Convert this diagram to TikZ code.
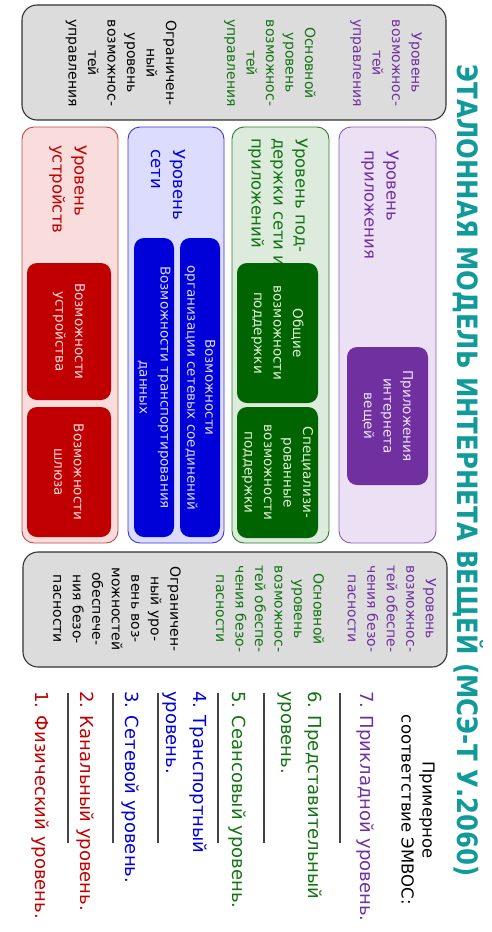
\documentclass[tikz,border=0pt]{standalone}
\usepackage{fontspec}
\usepackage{graphicx}
\setmainfont{DejaVu Sans}
\definecolor{redD}{HTML}{C00000}
\definecolor{redL}{HTML}{F9DCDC}
\definecolor{redB}{HTML}{C04848}
\definecolor{redT}{HTML}{FFD8D8}
\definecolor{bluD}{HTML}{0000D8}
\definecolor{bluL}{HTML}{DCDCFF}
\definecolor{bluB}{HTML}{3838D0}
\definecolor{bluT}{HTML}{D8D8FF}
\definecolor{grnD}{HTML}{006400}
\definecolor{grnL}{HTML}{DCEBDC}
\definecolor{grnB}{HTML}{2E7D2E}
\definecolor{grnT}{HTML}{E4F4D8}
\definecolor{grnX}{HTML}{137313}
\definecolor{purD}{HTML}{7030A0}
\definecolor{purL}{HTML}{ECE1F4}
\definecolor{purB}{HTML}{8A5AB8}
\definecolor{purT}{HTML}{F0E4FF}
\definecolor{gryL}{HTML}{DCDCDC}
\definecolor{gryB}{HTML}{333333}
\definecolor{ttl}{HTML}{119A9A}
\definecolor{sepc}{HTML}{444444}
\begin{document}
\begin{tikzpicture}[x=1pt,y=-1pt,
  graybox/.style={draw=gryB, fill=gryL, line width=1.1pt, rounded corners=15pt, minimum width=424pt, minimum height=115pt, inner sep=0pt},
  colbox/.style={line width=0.9pt, rounded corners=12pt, minimum height=416pt, inner sep=0pt},
  capbox/.style={rotate=-90, rounded corners=10pt, inner sep=0pt, align=center, font={\fontsize{13.5}{19.5}\selectfont}},
  hdr/.style={rotate=-90, anchor=west, inner sep=0pt, align=left, font={\fontsize{16.5}{22}\selectfont}},
  gtxt/.style={rotate=-90, inner sep=0pt, align=center, font={\fontsize{14}{19.5}\selectfont}},
  osi/.style={rotate=-90, anchor=west, inner sep=0pt, align=left, font={\fontsize{18}{27}\selectfont}},
  sepline/.style={draw=sepc, line width=1.2pt}
]
\useasboundingbox (0,0) rectangle (491,932);
\fill[white] (0,0) rectangle (491,932);

% title
\node[rotate=-90, inner sep=0pt, text=ttl, font=\bfseries] (title) at (468,471)
  {\resizebox{812pt}{26pt}{ЭТАЛОННАЯ МОДЕЛЬ ИНТЕРНЕТА ВЕЩЕЙ (МСЭ-Т У.2060)}};

% management box
\node[graybox] (mgmt) at (234,62.5) {};
\node[gtxt, text=purD] (mgmtA) at (386,63) {Уровень\\возможнос-\\тей\\управления};
\node[gtxt, text=grnX] (mgmtB) at (270,63) {Основной\\уровень\\возможнос-\\тей\\управления};
\node[gtxt, text=black] (mgmtC) at (121,63) {Ограничен-\\ный\\уровень\\возможнос-\\тей\\управления};

% security box
\node[graybox] (sec) at (235,609.5) {};
\node[gtxt, text=purD] (secA) at (392,609) {Уровень\\возможнос-\\тей обеспе-\\чения безо-\\пасности};
\node[gtxt, text=grnX] (secB) at (270,609) {Основной\\уровень\\возможнос-\\тей обеспе-\\чения безо-\\пасности};
\node[gtxt, text=black] (secC) at (117,609) {Ограничен-\\ный уро-\\вень воз-\\можностей\\обеспече-\\ния безо-\\пасности};

% columns
\node[colbox, draw=redB, fill=redL, minimum width=96pt] (devcol) at (70,335) {};
\node[colbox, draw=bluB, fill=bluL, minimum width=96pt] (netcol) at (176,335) {};
\node[colbox, draw=grnB, fill=grnL, minimum width=97pt] (supcol) at (280.5,335) {};
\node[colbox, draw=purB, fill=purL, minimum width=97pt] (appcol) at (387.5,335) {};

% headers
\node[hdr, text=redD] (devh) at (68,145) {Уровень\\устройств};
\node[hdr, text=bluD] (neth) at (168,149) {Уровень\\сети};
\node[hdr, text=grnX] (suph) at (278,138) {Уровень под-\\держки сети и\\приложений};
\node[hdr, text=purD] (apph) at (380,150) {Уровень\\приложения};

% capability boxes
\node[capbox, fill=redD, text=redT, minimum width=137pt, minimum height=84pt] (devcap) at (69,331.5) {Возможности\\устройства};
\node[capbox, fill=redD, text=redT, minimum width=130pt, minimum height=84pt] (gwcap) at (69,472) {Возможности\\шлюза};
\node[capbox, fill=bluD, text=bluT, minimum width=299pt, minimum height=40pt, font={\fontsize{13.5}{21}\selectfont}] (transp) at (154,387.5) {Возможности транспортирования\\данных};
\node[capbox, fill=bluD, text=bluT, minimum width=299pt, minimum height=40pt, font={\fontsize{13.5}{18}\selectfont}] (netconn) at (200,387.5) {Возможности\\организации сетевых соединений};
\node[capbox, fill=grnD, text=grnT, minimum width=140pt, minimum height=81pt] (gensup) at (277.5,333) {Общие\\возможности\\поддержки};
\node[capbox, fill=grnD, text=grnT, minimum width=131pt, minimum height=81pt] (specsup) at (277.5,472.5) {Специализи-\\рованные\\возможности\\поддержки};
\node[capbox, fill=purD, text=purT, minimum width=138pt, minimum height=81pt] (iotapp) at (387.5,416) {Приложения\\интернета\\вещей};

% OSI correspondence
\node[rotate=-90, inner sep=0pt, align=center, font={\fontsize{16.5}{21}\selectfont}] (osititle) at (418,810) {Примерное\\соответствие ЭМВОС:};
\node[osi, text=purD] (osi7) at (365,691) {7. Прикладной уровень.};
\node[osi, text=grnX] (osi6) at (300,691) {6. Представительный\\уровень.};
\node[osi, text=grnX] (osi5) at (237,691) {5. Сеансовый уровень.};
\node[osi, text=bluD] (osi4) at (185,691) {4. Транспортный\\уровень.};
\node[osi, text=bluD] (osi3) at (130,691) {3. Сетевой уровень.};
\node[osi, text=redD] (osi2) at (85,691) {2. Канальный уровень.};
\node[osi, text=redD] (osi1) at (40,691) {1. Физический уровень.};

\foreach \sx in {340,264,218,158,113,68}{
  \draw[sepline] (\sx,693) -- (\sx,843);
}
\end{tikzpicture}
\end{document}
